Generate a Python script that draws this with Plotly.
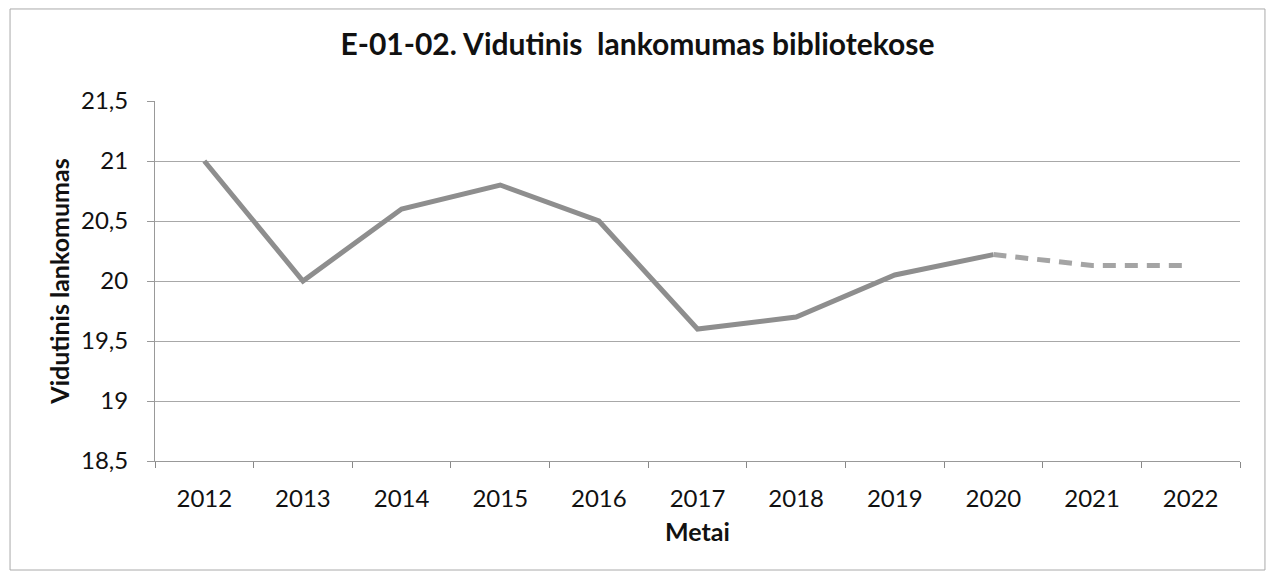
import plotly.graph_objects as go

years = ['2012', '2013', '2014', '2015', '2016', '2017', '2018', '2019', '2020', '2021', '2022']
actual = [21.0, 20.0, 20.6, 20.8, 20.5, 19.6, 19.7, 20.05, 20.22, None, None]
forecast = [None, None, None, None, None, None, None, None, 20.22, 20.13, 20.13]
y_ticks = [18.5, 19, 19.5, 20, 20.5, 21, 21.5]
y_ticktext = ['18,5', '19', '19,5', '20', '20,5', '21', '21,5']

FONT = 'Lato, Liberation Sans, sans-serif'
LINE = '#8e8e8e'

fig = go.Figure()
fig.add_trace(go.Scatter(x=years, y=actual, mode='lines',
                         line=dict(color=LINE, width=5), showlegend=False))
fig.add_trace(go.Scatter(x=years, y=forecast, mode='lines',
                         line=dict(color='#a4a4a4', width=5, dash='13px,9px'), showlegend=False))

fig.update_layout(
    width=1259, height=563,
    paper_bgcolor='white', plot_bgcolor='white',
    margin=dict(l=147, r=27, t=93, b=110),
    font=dict(family=FONT, color='#111', size=24),
    title=dict(text='<b>E-01-02. Vidutinis\u00a0 lankomumas bibliotekose</b>',
               x=0.5, xanchor='center', y=0.935, yanchor='middle',
               font=dict(size=30, family=FONT, color='#111')),
    xaxis=dict(type='category', range=[-0.5, 10.5], tickson='boundaries', ticks='outside', ticklen=6,
               tickcolor='#888', showline=True, linecolor='#999', linewidth=1,
               showgrid=False, ticklabelstandoff=16,
               title=dict(text='<b>Metai</b>', font=dict(size=25), standoff=12)),
    yaxis=dict(range=[18.5, 21.5], tickvals=y_ticks, ticktext=y_ticktext,
               ticks='outside', ticklen=7, tickcolor='#999',
               showline=True, linecolor='#999', linewidth=1,
               showgrid=True, gridcolor='#a8a8a8', gridwidth=1,
               ticklabelstandoff=14, zeroline=False,
               title=dict(text='<b>Vidutinis lankomumas</b>', font=dict(size=25), standoff=4)),
    shapes=[dict(type='rect', xref='paper', yref='paper', x0=-0.1336, x1=1.023, y0=-0.3028, y1=1.2556,
                 line=dict(color='#aaa', width=1))],
)

fig.write_html('out.html')
